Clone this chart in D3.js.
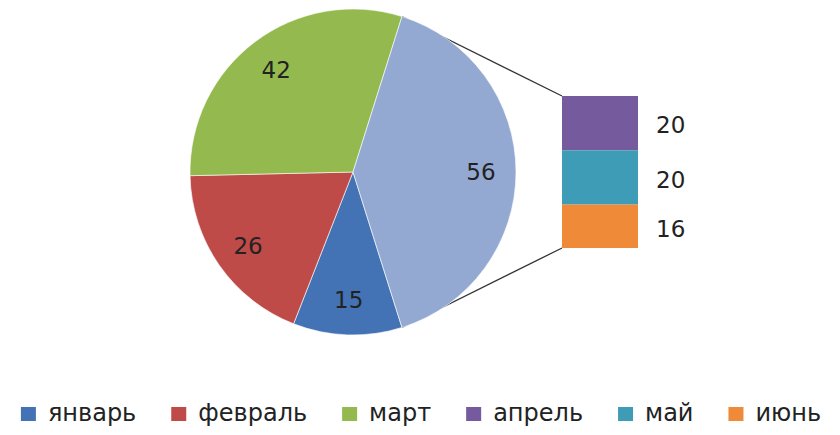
<!DOCTYPE html>
<html>
<head>
<meta charset="UTF-8">
<script src="https://cdn.jsdelivr.net/npm/d3@7"></script>
<style>
  body { margin: 0; background: #fff; }
  text { font-family: "DejaVu Sans", Verdana, sans-serif; fill: #222; }
</style>
</head>
<body>
<svg width="840" height="435"></svg>
<script>
// pie part: first three months + "other" slice
const pieNames = ["январь", "февраль", "март", "прочее"];
const pieValues = [15, 26, 42, 56];
const pieColors = ["#4473B5", "#BE4B48", "#94BA4F", "#93A9D1"];

// bar part: what makes up "other"
const barNames = ["апрель", "май", "июнь"];
const barValues = [20, 20, 16];
const barColors = ["#765A9E", "#3F9CB6", "#EE8A38"];

const legendNames = ["январь", "февраль", "март", "апрель", "май", "июнь"];
const legendColors = ["#4473B5", "#BE4B48", "#94BA4F", "#765A9E", "#3F9CB6", "#EE8A38"];

const svg = d3.select("svg");
const cx = 353, cy = 172, r = 163;

// "other" slice centred on the right, jan begins where it ends
const total = d3.sum(pieValues);
const otherAngle = pieValues[3] / total * 2 * Math.PI;
const janStart = Math.PI / 2 + otherAngle / 2;

const pie = d3.pie().sort(null).value(d => d)
    .startAngle(janStart).endAngle(janStart + 2 * Math.PI);
const arcs = pie(pieValues);
const arc = d3.arc().innerRadius(0).outerRadius(r);
const labelArc = d3.arc().innerRadius(128).outerRadius(128);

// bar scale
const barX = 562, barW = 76;
const y = d3.scaleLinear().domain([0, d3.sum(barValues)]).range([96, 248]);
const cum = d3.cumsum(barValues);

// connector lines (drawn under the pie)
const oth = arcs[3];
const pTop = [cx + r * Math.sin(oth.startAngle), cy - r * Math.cos(oth.startAngle)];
const pBot = [cx + r * Math.sin(oth.endAngle), cy - r * Math.cos(oth.endAngle)];
svg.append("line")
    .attr("x1", pTop[0]).attr("y1", pTop[1])
    .attr("x2", barX).attr("y2", y(0))
    .attr("stroke", "#333").attr("stroke-width", 1.3);
svg.append("line")
    .attr("x1", pBot[0]).attr("y1", pBot[1])
    .attr("x2", barX).attr("y2", y(cum[cum.length - 1]))
    .attr("stroke", "#333").attr("stroke-width", 1.3);

const g = svg.append("g").attr("transform", `translate(${cx},${cy})`);
g.selectAll("path")
    .data(arcs)
    .enter().append("path")
    .attr("d", arc)
    .attr("fill", (d, i) => pieColors[i])
    .attr("stroke", "rgba(255,255,255,0.6)")
    .attr("stroke-width", 1);

g.selectAll(".lbl")
    .data(arcs)
    .enter().append("text")
    .attr("class", "lbl")
    .attr("transform", d => `translate(${labelArc.centroid(d)})`)
    .attr("text-anchor", "middle")
    .attr("dy", "0.36em")
    .style("font-size", "23px")
    .text(d => d.data);

// stacked bar
svg.selectAll(".seg")
    .data(barValues)
    .enter().append("rect")
    .attr("class", "seg")
    .attr("x", barX)
    .attr("width", barW)
    .attr("y", (d, i) => y(cum[i] - d))
    .attr("height", d => y(d) - y(0))
    .attr("fill", (d, i) => barColors[i]);

svg.selectAll(".blbl")
    .data(barValues)
    .enter().append("text")
    .attr("class", "blbl")
    .attr("x", barX + barW + 18)
    .attr("y", (d, i) => y(cum[i] - d / 2) + 2)
    .attr("dy", "0.36em")
    .style("font-size", "23px")
    .text(d => d);

// legend, centred
const leg = svg.append("g");
const items = leg.selectAll("g")
    .data(legendNames)
    .enter().append("g");
items.append("rect")
    .attr("width", 15).attr("height", 14)
    .attr("y", -6)
    .attr("fill", (d, i) => legendColors[i]);
items.append("text")
    .attr("x", 27)
    .attr("dy", "0.32em")
    .style("font-size", "24px")
    .text(d => d);
let xpos = 0;
items.each(function () {
    const w = d3.select(this).select("text").node().getComputedTextLength();
    d3.select(this).attr("transform", `translate(${xpos},0)`);
    xpos += 27 + w + 35;
});
const legW = xpos - 35;
leg.attr("transform", `translate(${421 - legW / 2},413)`);
</script>
</body>
</html>
